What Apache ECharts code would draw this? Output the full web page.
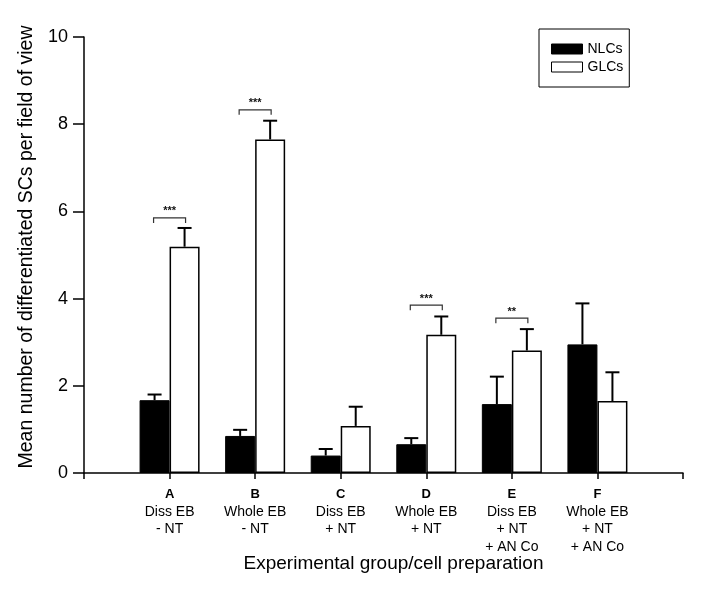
<!DOCTYPE html>
<html>
<head>
<meta charset="utf-8">
<script src="https://cdn.jsdelivr.net/npm/echarts@6/dist/echarts.min.js"></script>
<style>html,body{margin:0;padding:0;background:#fff}#c{width:702px;height:591px}</style>
</head>
<body>
<div id="c"></div>
<script>
// ---- data ----
var groupLetters = ['A', 'B', 'C', 'D', 'E', 'F'];
var groupDescriptions = [
  ['Diss EB', '- NT'],
  ['Whole EB', '- NT'],
  ['Diss EB', '+ NT'],
  ['Whole EB', '+ NT'],
  ['Diss EB', '+ NT', '+ AN Co'],
  ['Whole EB', '+ NT', '+ AN Co']
];
var groupPositions = [1, 2, 3, 4, 5, 6];
var nlcValues = [1.67, 0.85, 0.40, 0.66, 1.58, 2.95];
var nlcErrors = [0.13, 0.14, 0.15, 0.14, 0.63, 0.94];
var glcValues = [5.19, 7.65, 1.08, 3.17, 2.81, 1.65];
var glcErrors = [0.43, 0.43, 0.44, 0.42, 0.49, 0.66];
var sigGroups = [0, 1, 3, 4];
var sigLevels = [5.85, 8.33, 3.85, 3.55];
var sigLabels = ['***', '***', '***', '**'];
var yTicks = [0, 2, 4, 6, 8, 10];

var FONT = 'Liberation Sans, Arial, sans-serif';
var BAR_W = 30;

var chart = echarts.init(document.getElementById('c'), null, {renderer: 'canvas'});

function pairs(vals) { return vals.map(function (v, i) { return [groupPositions[i], v]; }); }

function errorSeries(name, vals, errs, side) {
  return {
    type: 'custom',
    name: name + ' err',
    z: 1,
    silent: true,
    data: vals.map(function (v, i) { return [groupPositions[i], v, v + errs[i]]; }),
    renderItem: function (params, api) {
      var p0 = api.coord([api.value(0), api.value(1)]);
      var p1 = api.coord([api.value(0), api.value(2)]);
      var x = p0[0] + side * BAR_W / 2;
      return {
        type: 'group',
        children: [
          {type: 'line', shape: {x1: x, y1: p0[1], x2: x, y2: p1[1]}, style: {stroke: '#000', lineWidth: 2}},
          {type: 'line', shape: {x1: x - 7, y1: p1[1], x2: x + 7, y2: p1[1]}, style: {stroke: '#000', lineWidth: 2}}
        ]
      };
    }
  };
}

var option = {
  animation: false,
  backgroundColor: '#fff',
  grid: {left: 84, right: 19, top: 37, bottom: 118, containLabel: false},
  legend: {
    orient: 'vertical',
    left: 539,
    top: 29,
    data: ['NLCs', 'GLCs'],
    icon: 'rect',
    itemWidth: 31,
    itemHeight: 10,
    itemGap: 2,
    itemStyle: {borderWidth: 1},
    padding: [12, 6, 12, 12],
    borderColor: '#000',
    borderWidth: 1,
    textStyle: {fontFamily: FONT, fontSize: 14, color: '#000', lineHeight: 16}
  },
  xAxis: {
    type: 'value',
    min: 0,
    max: 7,
    interval: 1,
    splitLine: {show: false},
    axisLine: {show: true, lineStyle: {color: '#000', width: 1.5}},
    axisTick: {show: true, length: 6, lineStyle: {color: '#000', width: 1.5}},
    axisLabel: {
      customValues: groupPositions,
      margin: 12,
      formatter: function (v) {
        var i = groupPositions.indexOf(v);
        if (i < 0) return '';
        return '{b|' + groupLetters[i] + '}\n' + groupDescriptions[i].map(function (s) { return '{n|' + s + '}'; }).join('\n');
      },
      rich: {
        b: {fontFamily: FONT, fontSize: 13, fontWeight: 'bold', color: '#000', lineHeight: 18},
        n: {fontFamily: FONT, fontSize: 14, color: '#000', lineHeight: 17.5}
      }
    },
    name: 'Experimental group/cell preparation',
    nameLocation: 'middle',
    nameMoveOverlap: false,
    nameGap: 81,
    nameTextStyle: {fontFamily: FONT, fontSize: 19, color: '#000', padding: [0, 0, 0, 20]}
  },
  yAxis: {
    type: 'value',
    min: 0,
    max: 10,
    interval: 2,
    splitLine: {show: false},
    axisLine: {show: true, lineStyle: {color: '#000', width: 1.5}},
    axisTick: {show: true, length: 11, lineStyle: {color: '#000', width: 1.5}},
    axisLabel: {
      margin: 16,
      fontFamily: FONT, fontSize: 18, color: '#000',
      formatter: function (v) { return yTicks.indexOf(v) >= 0 ? String(v) : ''; }
    },
    name: 'Mean number of differentiated SCs per field of view',
    nameLocation: 'middle',
    nameMoveOverlap: false,
    nameGap: 47,
    nameTextStyle: {fontFamily: FONT, fontSize: 19.5, color: '#000', padding: [0, 0, 0, 16]}
  },
  series: [
    {
      type: 'bar',
      name: 'NLCs',
      data: pairs(nlcValues),
      barWidth: BAR_W,
      barGap: '0%',
      z: 2,
      itemStyle: {color: '#000', borderColor: '#000', borderWidth: 1}
    },
    {
      type: 'bar',
      name: 'GLCs',
      data: pairs(glcValues),
      barWidth: BAR_W,
      barGap: '0%',
      z: 2,
      itemStyle: {color: '#fff', borderColor: '#000', borderWidth: 1.5}
    },
    errorSeries('NLCs', nlcValues, nlcErrors, -1),
    errorSeries('GLCs', glcValues, glcErrors, 1),
    {
      type: 'custom',
      name: 'sig',
      silent: true,
      z: 3,
      data: sigGroups.map(function (g, k) { return [groupPositions[g], sigLevels[k], k]; }),
      renderItem: function (params, api) {
        var p = api.coord([api.value(0), api.value(1)]);
        var k = api.value(2);
        var xl = p[0] - BAR_W / 2, xr = p[0] + BAR_W / 2;
        return {
          type: 'group',
          children: [
            {type: 'polyline', shape: {points: [[xl - 1, p[1] + 5], [xl - 1, p[1]], [xr + 1, p[1]], [xr + 1, p[1] + 5]]},
              style: {stroke: '#333', lineWidth: 1.2, fill: null}},
            {type: 'text', x: p[0], y: p[1] - 1,
              style: {text: sigLabels[k], fill: '#111', font: 'bold 11px ' + FONT, textAlign: 'center', textVerticalAlign: 'bottom'}}
          ]
        };
      }
    }
  ]
};
chart.setOption(option);
</script>
</body>
</html>
